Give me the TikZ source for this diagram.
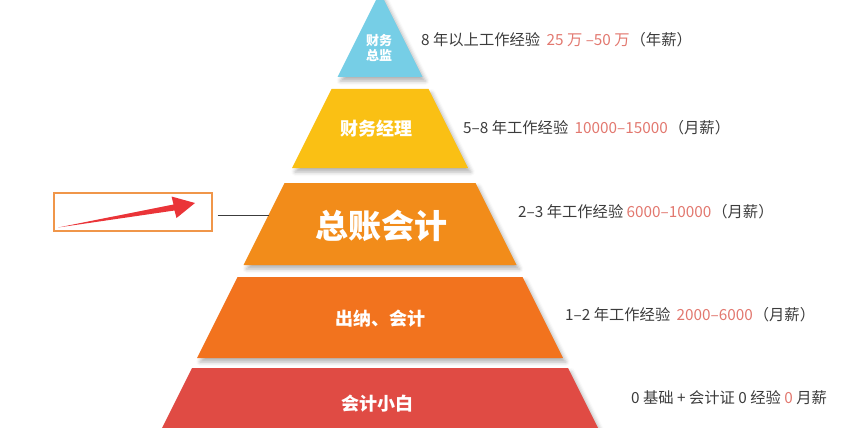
\documentclass[tikz,border=0pt]{standalone}
\usepackage{fontspec}
\setmainfont{Noto Sans CJK SC}
\usetikzlibrary{shadows.blur}
\definecolor{cblue}{HTML}{76CEE6}
\definecolor{cyellow}{HTML}{FAC014}
\definecolor{corange}{HTML}{F28C1A}
\definecolor{cdorange}{HTML}{F2731E}
\definecolor{cred}{HTML}{E04B44}
\definecolor{ctxt}{HTML}{3C3C3C}
\definecolor{csal}{HTML}{E2786F}
\definecolor{cbox}{HTML}{F0964A}
\definecolor{carrow}{HTML}{EA3438}
\tikzset{
  band/.style={draw=none, blur shadow={shadow xshift=3pt, shadow yshift=-4pt, shadow blur radius=4pt, shadow opacity=30}},
  blabel/.style={text=white, font=\bfseries, inner sep=0pt, align=center},
  info/.style={anchor=west, text=ctxt, font=\fontsize{15.3}{18}\selectfont, inner sep=0pt},
}
\begin{document}
\begin{tikzpicture}[x=1pt, y=-1pt]
\useasboundingbox (0,0) rectangle (852,428);
\begin{scope}
\clip (0,0) rectangle (852,428);
% bands
\path[band, fill=cblue] (380,-8) -- (422.5,77) -- (337.5,77) -- cycle;
\path[band, fill=cyellow] (331.5,89) -- (428.5,89) -- (468,168) -- (292,168) -- cycle;
\path[band, fill=corange] (284.5,183) -- (475.5,183) -- (516.5,265) -- (243.5,265) -- cycle;
\path[band, fill=cdorange] (237.5,277) -- (522.5,277) -- (563,358) -- (197,358) -- cycle;
\path[band, fill=cred] (192,368) -- (568,368) -- (602,436) -- (158,436) -- cycle;
\end{scope}
% band labels
\node[blabel, font=\bfseries\fontsize{13}{15.5}\selectfont] (l1) at (379,48) {财务\\总监};
\node[blabel, font=\bfseries\fontsize{18}{20}\selectfont] (l2) at (376,129) {财务经理};
\node[blabel, font=\bfseries\fontsize{33}{36}\selectfont] (l3) at (381,226) {总账会计};
\node[blabel, font=\bfseries\fontsize{18}{20}\selectfont] (l4) at (380,319) {出纳、会计};
\node[blabel, font=\bfseries\fontsize{18}{20}\selectfont] (l5) at (377,404) {会计小白};
% info texts
\node[info] (t1) at (421,40) {8 年以上工作经验\hspace{3pt} \textcolor{csal}{25 万 –50 万}\hspace{1pt}（年薪）};
\node[info] (t2) at (463,128) {5–8 年工作经验\hspace{3pt} \textcolor{csal}{10000–15000}\hspace{1pt}（月薪）};
\node[info] (t3) at (518,212) {2–3 年工作经验 \textcolor{csal}{6000–10000}\hspace{1pt}（月薪）};
\node[info] (t4) at (565,315) {1–2 年工作经验\hspace{3pt} \textcolor{csal}{2000–6000}\hspace{1pt}（月薪）};
\node[info] (t5) at (631,398) {0 基础 + 会计证 0 经验 \textcolor{csal}{0} 月薪};
% left box with arrow
\node[draw=cbox, line width=2pt, minimum width=158pt, minimum height=38pt, inner sep=0pt] (box) at (132.5,211.5) {};
\coordinate (edge) at (268.5,215);
\draw[ctxt, line width=0.8pt, shorten <=5pt] (box.east |- edge) -- (edge);
\coordinate (atail) at (58,227.5);
\coordinate (atip) at (195,203);
\fill[carrow] (atail) -- (173.5,204.5) -- (171.5,196.5) -- (atip) -- (176.5,218) -- (174.5,210.5) -- cycle;
\end{tikzpicture}
\end{document}
